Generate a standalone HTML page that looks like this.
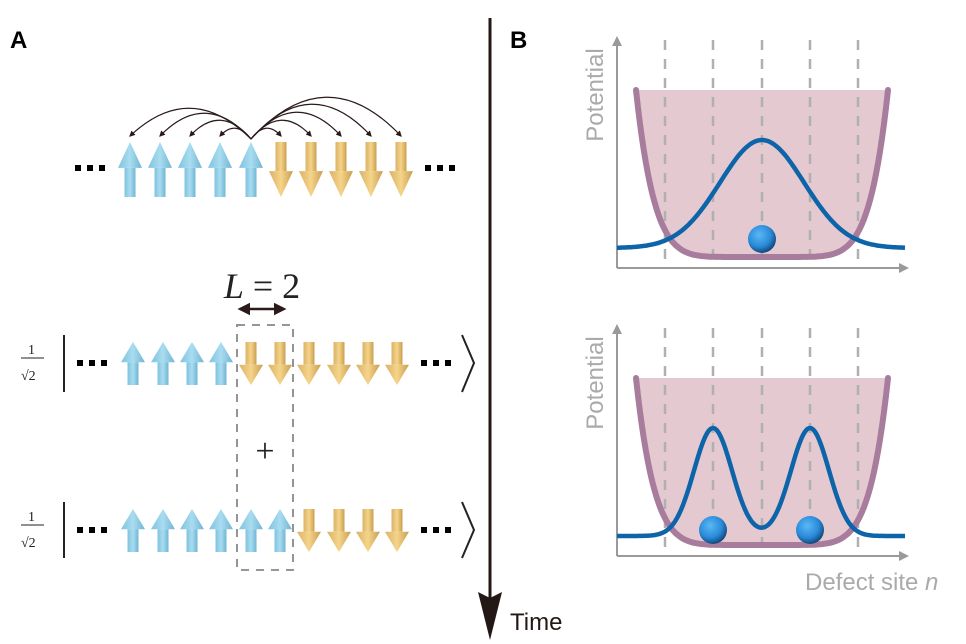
<!DOCTYPE html>
<html><head><meta charset="utf-8"><style>
html,body{margin:0;padding:0;background:#fff;width:966px;height:644px;overflow:hidden}
svg{display:block}
</style></head><body>
<svg id="s" width="966" height="644" viewBox="0 0 966 644" xmlns="http://www.w3.org/2000/svg">
<defs>
<linearGradient id="gb" x1="0" x2="1"><stop offset="0" stop-color="#7fc3df"/><stop offset="0.5" stop-color="#a9dcf0"/><stop offset="1" stop-color="#6fb5d4"/></linearGradient>
<linearGradient id="gy" x1="0" x2="1"><stop offset="0" stop-color="#d9b266"/><stop offset="0.5" stop-color="#f5d48a"/><stop offset="1" stop-color="#c99e50"/></linearGradient>
<radialGradient id="ball" cx="0.4" cy="0.35" r="0.7"><stop offset="0" stop-color="#5ab8f5"/><stop offset="0.6" stop-color="#2a8ad8"/><stop offset="1" stop-color="#0d3d6e"/></radialGradient>
<marker id="ah" viewBox="0 0 10 10" refX="8" refY="5" markerWidth="5" markerHeight="5" orient="auto-start-reverse"><path d="M0,0 L10,5 L0,10 z" fill="#2a1a1a"/></marker>
<marker id="ga" viewBox="0 0 10 10" refX="8" refY="5" markerWidth="5" markerHeight="5" orient="auto"><path d="M0,0 L10,5 L0,10 z" fill="#9a9a9a"/></marker>
</defs>
<g id="g"></g>
<text x="10" y="48" font-family="Liberation Sans" font-weight="bold" font-size="24">A</text>
<text x="510" y="48" font-family="Liberation Sans" font-weight="bold" font-size="24">B</text>
<line x1="490" y1="18" x2="490" y2="600" stroke="#231815" stroke-width="3"/>
<path d="M478,592 L490,640 L502,592 L490,598 z" fill="#231815"/>
<text x="510" y="630" font-family="Liberation Sans" font-size="24" fill="#231815">Time</text>
<g font-family="Liberation Serif" fill="#222">
<text x="262" y="298" font-size="36" text-anchor="middle"><tspan font-style="italic">L</tspan> = 2</text>
<text x="265" y="462" font-size="34" text-anchor="middle">+</text>
<g font-size="14"><text x="28" y="354">1</text><line x1="21" y1="358" x2="44" y2="358" stroke="#222"/><text x="21" y="380">√2</text>
<text x="28" y="521">1</text><line x1="21" y1="525" x2="44" y2="525" stroke="#222"/><text x="21" y="547">√2</text></g>
</g>
<line x1="64" y1="335" x2="64" y2="392" stroke="#222" stroke-width="2"/>
<line x1="64" y1="502" x2="64" y2="558" stroke="#222" stroke-width="2"/>
<path d="M462,335 L474,363 L462,392" fill="none" stroke="#222" stroke-width="2"/>
<path d="M462,502 L474,530 L462,558" fill="none" stroke="#222" stroke-width="2"/>
<line x1="240" y1="309" x2="284" y2="309" stroke="#2a1a1a" stroke-width="2.5" marker-start="url(#ah)" marker-end="url(#ah)"/>
<rect x="237" y="325" width="56" height="245" fill="none" stroke="#888" stroke-width="1.8" stroke-dasharray="8,7"/>
<g id="b"></g>
<text transform="translate(603,95) rotate(-90)" font-family="Liberation Sans" font-size="24" fill="#aaa" text-anchor="middle">Potential</text>
<text transform="translate(603,383) rotate(-90)" font-family="Liberation Sans" font-size="24" fill="#aaa" text-anchor="middle">Potential</text>
<text x="805" y="590" font-family="Liberation Sans" font-size="24" fill="#aaa">Defect site <tspan font-style="italic">n</tspan></text>
</svg>
<script>
var g=document.getElementById('g'),b=document.getElementById('b'),h='';
function up(x,y0,y1){var H=y1-y0,hh=H*0.47;return '<path d="M'+(x-12)+','+(y0+hh)+' L'+x+','+y0+' L'+(x+12)+','+(y0+hh)+' z" fill="url(#gb)"/><rect x="'+(x-5.5)+'" y="'+(y0+hh)+'" width="11" height="'+(H-hh)+'" fill="url(#gb)"/>';}
function dn(x,y0,y1){var H=y1-y0,hh=H*0.47;return '<rect x="'+(x-5.5)+'" y="'+y0+'" width="11" height="'+(H-hh)+'" fill="url(#gy)"/><path d="M'+(x-12)+','+(y1-hh)+' L'+x+','+y1+' L'+(x+12)+','+(y1-hh)+' z" fill="url(#gy)"/>';}
function dots(x,y){var s='';for(var i=0;i<3;i++)s+='<rect x="'+(x+i*12)+'" y="'+(y-3)+'" width="6" height="6" fill="#000"/>';return s;}
var xs=[130,160,190,220,251,281,311,341,371,401];
for(var i=0;i<10;i++)h+=i<5?up(xs[i],142,197):dn(xs[i],142,197);
h+=dots(75,168)+dots(425,168);
for(var i=0;i<10;i++){if(i==4)continue;var d=Math.abs(i-4);var peak=(i<4?[0,128,120,113,108]:[0,128,120,112,104,97])[d];var ctrl=2*peak-137;var mx=(251+xs[i])/2;h+='<path d="M251,139 Q'+mx+','+ctrl+' '+xs[i]+',136" fill="none" stroke="#2a1a1a" stroke-width="1.2" marker-end="url(#ah)"/>';}
var x2=[133,163,192,221,251,280,309,339,368,397];
for(var i=0;i<10;i++)h+=i<4?up(x2[i],342,385):dn(x2[i],342,385);
for(var i=0;i<10;i++)h+=i<6?up(x2[i],509,552):dn(x2[i],509,552);
h+=dots(77,363)+dots(421,363)+dots(77,530)+dots(421,530);
g.innerHTML=h;
function panel(oy,gs){var s='';
var x0=617,y0=268+oy;
var top=90+oy,bot=257+oy,w=[];
for(var x=636;x<=888;x+=2){var r=Math.abs(x-762)/126;w.push([x,bot-(bot-top)*Math.pow(r,7)]);}
var p='M'+w.map(function(q){return q[0]+','+q[1].toFixed(1)}).join(' L');
s+='<path d="'+p+' L888,'+top+' L636,'+top+' z" fill="#e4c9d0"/>';
[665,713,762,810,858].forEach(function(x){s+='<line x1="'+x+'" y1="'+(40+oy)+'" x2="'+x+'" y2="'+y0+'" stroke="#b0b0b0" stroke-width="2.5" stroke-dasharray="10,9"/>';});
s+='<path d="'+p+'" fill="none" stroke="#a87c9c" stroke-width="6" stroke-linecap="round"/>';
s+='<line x1="'+x0+'" y1="'+y0+'" x2="'+x0+'" y2="'+(38+oy)+'" stroke="#9a9a9a" stroke-width="2" marker-end="url(#ga)"/>';
s+='<line x1="'+x0+'" y1="'+y0+'" x2="907" y2="'+y0+'" stroke="#9a9a9a" stroke-width="2" marker-end="url(#ga)"/>';
var base=248+oy,q=[];
for(var x=617;x<=905;x+=2){var v=0;gs.forEach(function(c){v+=Math.exp(-Math.pow(x-c[0],2)/(2*c[1]*c[1]));});q.push(x+','+(base-108*v).toFixed(1));}
s+='<path d="M'+q.join(' L')+'" fill="none" stroke="#0e64a8" stroke-width="4.5"/>';
return s;}
var s=panel(0,[[762,42]]);
s+='<circle cx="762" cy="239" r="14" fill="url(#ball)"/>';
s+=panel(288,[[713,19],[810,19]]);
s+='<circle cx="713" cy="530" r="14" fill="url(#ball)"/><circle cx="810" cy="530" r="14" fill="url(#ball)"/>';
b.innerHTML=s;
</script>
</body></html>
